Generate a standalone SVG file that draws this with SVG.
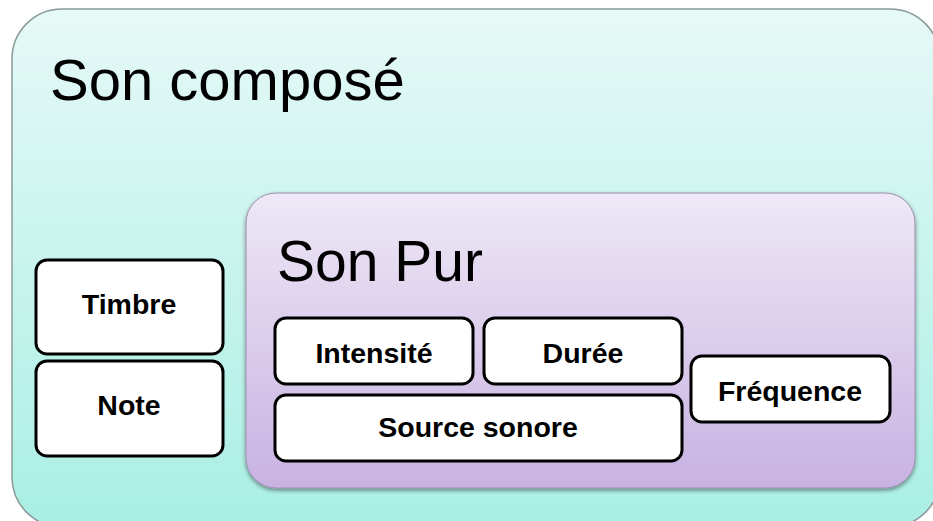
<svg xmlns="http://www.w3.org/2000/svg" width="933" height="521" viewBox="0 0 933 521">
<defs>
<linearGradient id="gTeal" x1="0" y1="0" x2="0" y2="1">
<stop offset="0" stop-color="#E6F9F7"/>
<stop offset="1" stop-color="#A9EFE3"/>
</linearGradient>
<linearGradient id="gPurple" x1="0" y1="0" x2="0" y2="1">
<stop offset="0" stop-color="#EEE8F6"/>
<stop offset="1" stop-color="#C8B2E2"/>
</linearGradient>
<filter id="shadow" x="-5%" y="-5%" width="110%" height="115%">
<feGaussianBlur in="SourceAlpha" stdDeviation="2"/>
<feOffset dx="0" dy="2" result="b"/>
<feComponentTransfer><feFuncA type="linear" slope="0.45"/></feComponentTransfer>
<feMerge><feMergeNode/><feMergeNode in="SourceGraphic"/></feMerge>
</filter>
</defs>
<style>
.title{font-family:"Liberation Sans",Arial,sans-serif;fill:#000}
.box{fill:#fff;stroke:#000;stroke-width:3}
.lbl{font-family:"Liberation Sans",Arial,sans-serif;font-weight:bold;font-size:28.5px;fill:#000;text-anchor:middle}
</style>
<g id="son-compose">
<rect x="12" y="9" width="928" height="518" rx="50" ry="50" fill="url(#gTeal)" stroke="#8A9A98" stroke-width="1.5"/>
<text class="title" x="50" y="100" font-size="58">Son composé</text>
</g>
<g id="timbre">
<rect class="box" x="36" y="260" width="187" height="94" rx="11"/>
<text class="lbl" x="129" y="314">Timbre</text>
</g>
<g id="note">
<rect class="box" x="36" y="361" width="187" height="95" rx="11"/>
<text class="lbl" x="129" y="415">Note</text>
</g>
<g id="son-pur">
<rect x="246" y="193" width="669" height="295" rx="30" ry="30" fill="url(#gPurple)" stroke="#9C8FAE" stroke-width="1" filter="url(#shadow)"/>
<text class="title" x="277" y="281" font-size="57">Son Pur</text>
</g>
<g id="intensite">
<rect class="box" x="275" y="318" width="198" height="66" rx="11"/>
<text class="lbl" x="374" y="363">Intensité</text>
</g>
<g id="duree">
<rect class="box" x="484" y="318" width="198" height="66" rx="11"/>
<text class="lbl" x="583" y="363">Durée</text>
</g>
<g id="source-sonore">
<rect class="box" x="275" y="395" width="407" height="66" rx="11"/>
<text class="lbl" x="478" y="437">Source sonore</text>
</g>
<g id="frequence">
<rect class="box" x="691" y="356" width="199" height="66" rx="11"/>
<text class="lbl" x="790" y="401">Fréquence</text>
</g>
<g id="connectors"></g>
</svg>
